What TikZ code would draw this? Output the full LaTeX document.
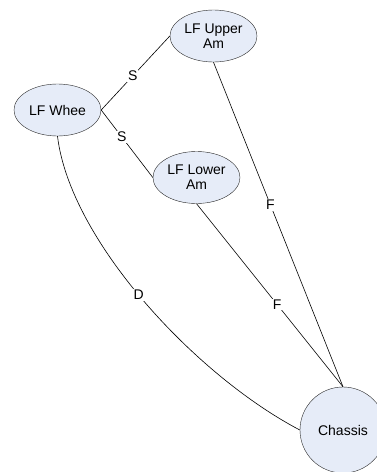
\documentclass[tikz,border=0pt]{standalone}
\usepackage{fontspec}
\setmainfont{Liberation Sans}
\usetikzlibrary{shapes.geometric}
\definecolor{partfill}{RGB}{230,236,248}
\begin{document}
\begin{tikzpicture}[x=1pt,y=-1pt,
  every node/.style={font=\fontsize{14}{15}\selectfont},
  part/.style={ellipse, draw=black!85, fill=partfill, minimum width=87pt, minimum height=52pt, inner sep=0pt, align=center},
  link/.style={draw=black, line width=0.6pt},
  tag/.style={fill=white, inner sep=1pt}]
\useasboundingbox (0,0) rectangle (377,472);

\node[part] (upper) at (213.5,36) {LF Upper\\Am};
\node[part] (wheel) at (57.5,110) {LF Whee};
\node[part] (lower) at (196.5,177.5) {LF Lower\\Am};
\node[part, circle, minimum size=86pt] (chassis) at (343,430) {Chassis};

\draw[link] (wheel.east) -- node[tag, pos=0.46] {S} (upper.west);
\draw[link] (wheel.east) -- node[tag, pos=0.4] {S} (lower.west);
\draw[link] (upper.south) -- node[tag, pos=0.44] {F} (chassis.north);
\draw[link] (lower.south) -- node[tag, pos=0.55] {F} (chassis.north);
\draw[link] (wheel.south) .. controls (70,240) and (195,375) .. node[tag, pos=0.48] {D} (chassis.west);
\end{tikzpicture}
\end{document}
